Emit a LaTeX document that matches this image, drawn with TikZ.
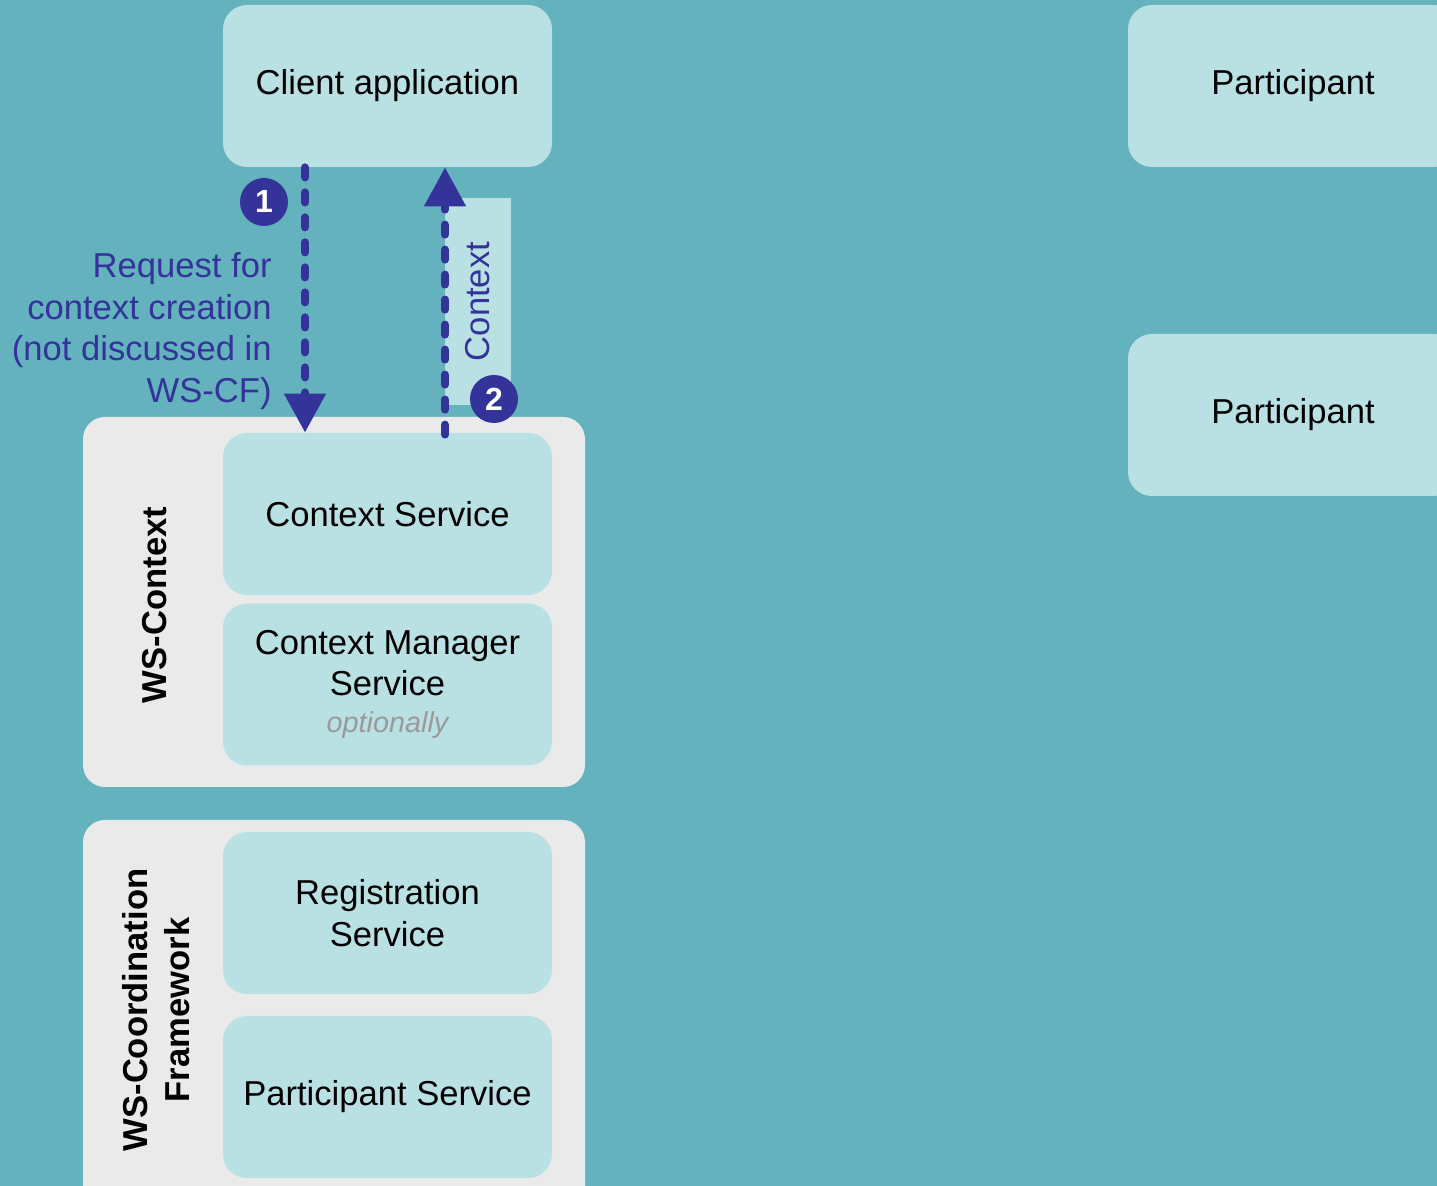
\documentclass[tikz,border=0pt]{standalone}
\usepackage{fontspec}
\setmainfont{Liberation Sans}
\usetikzlibrary{arrows.meta}
\definecolor{bgteal}{HTML}{64B2BD}
\definecolor{boxfill}{HTML}{B9E0E3}
\definecolor{panelgray}{HTML}{EAEAEA}
\definecolor{navy}{HTML}{333399}
\definecolor{optgray}{HTML}{9A9A9A}
\newcommand\mainfs{\fontsize{17.3pt}{20.7pt}\selectfont}
\tikzset{
  svcbox/.style={fill=boxfill, rounded corners=12pt, minimum width=164.5pt, minimum height=81pt, inner sep=0pt, align=center, font=\mainfs},
  panel/.style={fill=panelgray, rounded corners=11pt, inner sep=0pt, minimum width=251pt},
  badge/.style={circle, fill=navy, text=white, minimum size=24pt, inner sep=0pt, font=\fontsize{16pt}{16pt}\selectfont\bfseries},
  flow/.style={draw=navy, line width=4pt, dash pattern=on 5pt off 7.5pt, line cap=round, -{Triangle[width=20pt,length=19.5pt]}},
  sidelabel/.style={rotate=90, align=center, font=\mainfs\bfseries},
  note/.style={text=navy, align=right, font=\mainfs, inner sep=0pt}
}
\begin{document}
\begin{tikzpicture}[x=0.5pt,y=-0.5pt]
\useasboundingbox (0,0) rectangle (1437,1186);
\clip (0,0) rectangle (1437,1186);
\fill[bgteal] (0,0) rectangle (1437,1186);

% panels
\node[panel, minimum height=185pt] (wsctx) at (334,602) {};
\node[panel, minimum height=205pt] (wscf) at (334,1025) {};

% service boxes
\node[svcbox] (client) at (387.5,86) {Client application};
\node[svcbox, minimum width=165pt] (part1) at (1293,86) {Participant};
\node[svcbox, minimum width=165pt] (part2) at (1293,415) {Participant};
\node[svcbox] (cs) at (387.5,514) {Context Service};
\node[svcbox] (cms) at (387.5,684.5) {Context Manager\\Service\\[-2pt]{\fontsize{14.4pt}{17pt}\selectfont\itshape\color{optgray}optionally}};
\node[svcbox] (reg) at (387.5,913) {Registration\\Service};
\node[svcbox] (ps) at (387.5,1097) {Participant Service};

% side labels
\node[sidelabel] (lblctx) at (155,605) {WS-Context};
\node[sidelabel] (lblcf) at (156,1010) {WS-Coordination\\Framework};

% context label box
\node[rotate=90, fill=boxfill, minimum width=103.5pt, minimum height=33pt, inner sep=0pt, text=navy, font=\mainfs] (ctxlbl) at (478,301.5) {Context};

% request note
\node[note, anchor=east] (req) at (272,331) {Request for\\context creation\\(not discussed in\\WS-CF)};

% arrows
\coordinate (a1x) at (305,0);
\coordinate (a2x) at (445,0);
\draw[flow] (client.south -| a1x) -- (cs.north -| a1x);
\draw[flow] ([yshift=-1pt]cs.north -| a2x) -- (client.south -| a2x);

% badges
\node[badge] (b1) at (264,202) {1};
\node[badge] (b2) at (494,399) {2};
\end{tikzpicture}
\end{document}
